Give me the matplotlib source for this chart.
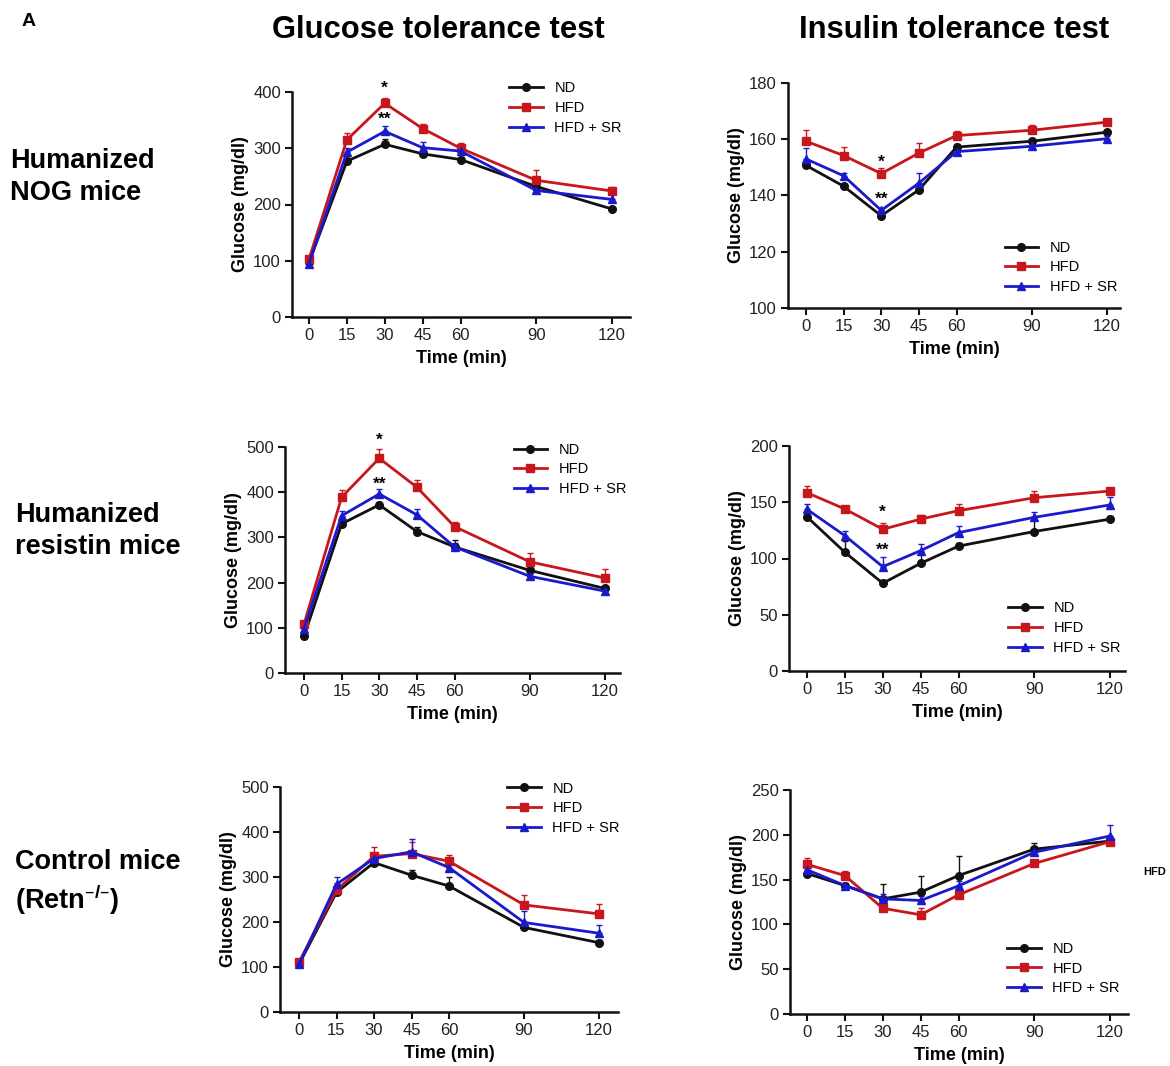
import matplotlib
matplotlib.use("Agg")
import matplotlib.pyplot as plt
import numpy as np

plt.rcParams['font.family'] = ['Liberation Sans', 'DejaVu Sans']

time = [0, 15, 30, 45, 60, 90, 120]
groups = ["ND", "HFD", "HFD + SR"]

# Row 1: humanized NOG mice
gtt_nog_nd = [97, 277, 307, 290, 280, 232, 192]
gtt_nog_hfd = [103, 315, 380, 335, 300, 243, 224]
gtt_nog_sr = [95, 293, 330, 301, 295, 225, 209]
gtt_nog_nd_err = [3, 5, 10, 5, 5, 5, 4]
gtt_nog_hfd_err = [5, 12, 10, 8, 10, 18, 8]
gtt_nog_sr_err = [3, 8, 10, 10, 6, 5, 10]

itt_nog_nd = [150.7, 143.3, 132.8, 142.0, 157.2, 159.3, 162.5]
itt_nog_hfd = [159.3, 154.2, 147.8, 155.1, 161.3, 163.2, 166.1]
itt_nog_sr = [153.0, 147.0, 134.7, 144.4, 155.6, 157.5, 160.2]
itt_nog_nd_err = [0.8, 0.8, 0.8, 0.8, 1.0, 0.8, 0.8]
itt_nog_hfd_err = [4, 3, 2, 3.5, 1.5, 2, 1]
itt_nog_sr_err = [4, 1, 1, 3.5, 1, 1, 1]

# Row 2: humanized resistin mice
gtt_res_nd = [81, 330, 372, 313, 279, 227, 187]
gtt_res_hfd = [108, 389, 475, 411, 324, 246, 210]
gtt_res_sr = [98, 348, 396, 350, 279, 214, 181]
gtt_res_nd_err = [4, 5, 6, 10, 15, 6, 6]
gtt_res_hfd_err = [5, 15, 20, 15, 10, 20, 20]
gtt_res_sr_err = [4, 10, 12, 12, 8, 5, 5]

itt_res_nd = [137, 105.5, 78, 95.7, 111, 124, 135]
itt_res_hfd = [158.5, 144, 126, 135, 142.5, 154, 160]
itt_res_sr = [143.7, 120.3, 92.7, 107, 123, 136.6, 147.6]
itt_res_nd_err = [3, 10, 3, 10, 3, 10, 3]
itt_res_hfd_err = [6, 3, 6, 4, 6, 6, 2]
itt_res_sr_err = [5, 4, 9, 6, 6, 5, 7]

# Row 3: control mice (Retn-/-)
gtt_ctl_nd = [106, 266, 332, 304, 280, 188, 154]
gtt_ctl_hfd = [111, 271, 346, 352, 335, 238, 218]
gtt_ctl_sr = [106, 284, 341, 356, 321, 199, 175]
gtt_ctl_nd_err = [3, 8, 8, 12, 20, 5, 5]
gtt_ctl_hfd_err = [4, 15, 20, 25, 15, 22, 22]
gtt_ctl_sr_err = [3, 15, 10, 28, 10, 25, 18]

itt_ctl_nd = [156.8, 143.4, 128.5, 136, 154.5, 184, 193]
itt_ctl_hfd = [167, 154.5, 118, 110.7, 133, 168, 192.4]
itt_ctl_sr = [161, 143.4, 128.5, 126.7, 143, 180.5, 198.7]
itt_ctl_nd_err = [3, 3, 17, 18, 22, 7, 3]
itt_ctl_hfd_err = [7, 5, 3, 8, 3, 3, 3]
itt_ctl_sr_err = [3, 3, 5, 5, 5, 5, 12]

col_titles = ["Glucose tolerance test", "Insulin tolerance test"]
row_labels = ["Humanized\nNOG mice", "Humanized\nresistin mice", "Control mice\n(Retn$^{\\mathregular{\u2013/\u2013}}$)"]

W, H = 1170, 1066
fig = plt.figure(figsize=(W / 100, H / 100), dpi=100)

colors = ["#111111", "#c8161d", "#1a1acc"]
markers = ["o", "s", "^"]

def add_ax(left, right, top, bottom):
    return fig.add_axes([left / W, 1 - bottom / H, (right - left) / W, (bottom - top) / H])

panels = [
    dict(box=(292, 630, 92, 317), ylim=(0, 400), yt=[0, 100, 200, 300, 400], x0=309, x120=612,
         data=(gtt_nog_nd, gtt_nog_hfd, gtt_nog_sr), err=(gtt_nog_nd_err, gtt_nog_hfd_err, gtt_nog_sr_err),
         legpos=(0.625, 1.075), stars=[("*", 407), ("**", 352)]),
    dict(box=(788, 1120, 83, 308), ylim=(100, 180), yt=[100, 120, 140, 160, 180], x0=806, x120=1107,
         data=(itt_nog_nd, itt_nog_hfd, itt_nog_sr), err=(itt_nog_nd_err, itt_nog_hfd_err, itt_nog_sr_err),
         legpos=(0.635, 0.035), stars=[("*", 151.8), ("**", 138.8)]),
    dict(box=(285, 620, 447, 673), ylim=(0, 500), yt=[0, 100, 200, 300, 400, 500], x0=304, x120=605,
         data=(gtt_res_nd, gtt_res_hfd, gtt_res_sr), err=(gtt_res_nd_err, gtt_res_hfd_err, gtt_res_sr_err),
         legpos=(0.665, 1.045), stars=[("*", 515), ("**", 417)]),
    dict(box=(789, 1125, 446, 671), ylim=(0, 200), yt=[0, 50, 100, 150, 200], x0=807, x120=1110,
         data=(itt_res_nd, itt_res_hfd, itt_res_sr), err=(itt_res_nd_err, itt_res_hfd_err, itt_res_sr_err),
         legpos=(0.635, 0.045), stars=[("*", 141), ("**", 107)]),
    dict(box=(280, 618, 787, 1012), ylim=(0, 500), yt=[0, 100, 200, 300, 400, 500], x0=299, x120=599,
         data=(gtt_ctl_nd, gtt_ctl_hfd, gtt_ctl_sr), err=(gtt_ctl_nd_err, gtt_ctl_hfd_err, gtt_ctl_sr_err),
         legpos=(0.655, 1.05), stars=[]),
    dict(box=(790, 1128, 790, 1014), ylim=(0, 250), yt=[0, 50, 100, 150, 200, 250], x0=807, x120=1110,
         data=(itt_ctl_nd, itt_ctl_hfd, itt_ctl_sr), err=(itt_ctl_nd_err, itt_ctl_hfd_err, itt_ctl_sr_err),
         legpos=(0.625, 0.057), stars=[]),
]

for i, p in enumerate(panels):
    left, right, top, bottom = p["box"]
    ax = add_ax(left, right, top, bottom)
    ppm = (p["x120"] - p["x0"]) / 120.0
    xl = -(p["x0"] - left) / ppm
    xr = (right - p["x0"]) / ppm
    ax.set_xlim(xl, xr)
    ax.set_ylim(*p["ylim"])
    handles = []
    for vals, e, c, m, g in zip(p["data"], p["err"], colors, markers, groups):
        lower = np.zeros(len(e))
        ax.errorbar(time, vals, yerr=[lower, e], fmt="none", ecolor=c, elinewidth=1.0,
                    capsize=2, capthick=1.0, zorder=2, clip_on=False)
        h, = ax.plot(time, vals, color=c, marker=m, ms=6 if m != "o" else 5.5, lw=2.0, label=g,
                     zorder=3, clip_on=False)
        handles.append(h)
    for s, yv in p["stars"]:
        ax.text(30, yv, s, ha="center", va="center", fontsize=12.5, fontweight="bold", color="black",
                clip_on=False)
    ax.spines["top"].set_visible(False)
    ax.spines["right"].set_visible(False)
    for sp in ("left", "bottom"):
        ax.spines[sp].set_linewidth(1.8)
        ax.spines[sp].set_color("#111111")
    ax.set_xticks(time)
    ax.set_yticks(p["yt"])
    ax.tick_params(axis="both", direction="out", length=5, width=1.5, labelsize=12,
                   labelcolor="#222222", color="#111111", pad=3)
    ax.set_xlabel("Time (min)", fontsize=13, fontweight="bold", labelpad=5)
    ax.set_ylabel("Glucose (mg/dl)", fontsize=13, fontweight="bold", labelpad=3)
    loc = "upper left" if i % 2 == 0 else "lower left"
    ax.legend(handles=handles, loc=loc, bbox_to_anchor=p["legpos"], frameon=False, fontsize=10.5,
              handlelength=2.3, handletextpad=0.8, labelspacing=0.4, borderaxespad=0)

fig.text(22 / W, 1 - 22 / H, "A", fontsize=14, fontweight="bold", ha="left", va="center")
fig.text(438 / W, 1 - 30 / H, col_titles[0], fontsize=22.3, fontweight="bold", ha="center", va="center")
fig.text(954 / W, 1 - 30 / H, col_titles[1], fontsize=22.3, fontweight="bold", ha="center", va="center")
row_y = [177, 531, 883]
row_x = [10, 15, 15]
for lbl, yy, xx in zip(row_labels, row_y, row_x):
    fig.text(xx / W, 1 - yy / H, lbl, fontsize=19.5, fontweight="bold", ha="left", va="center",
             linespacing=1.3)
fig.text(1155 / W, 1 - 872 / H, "HFD", fontsize=8, fontweight="bold", ha="center", va="center")

fig.savefig("out.png", dpi=100)
